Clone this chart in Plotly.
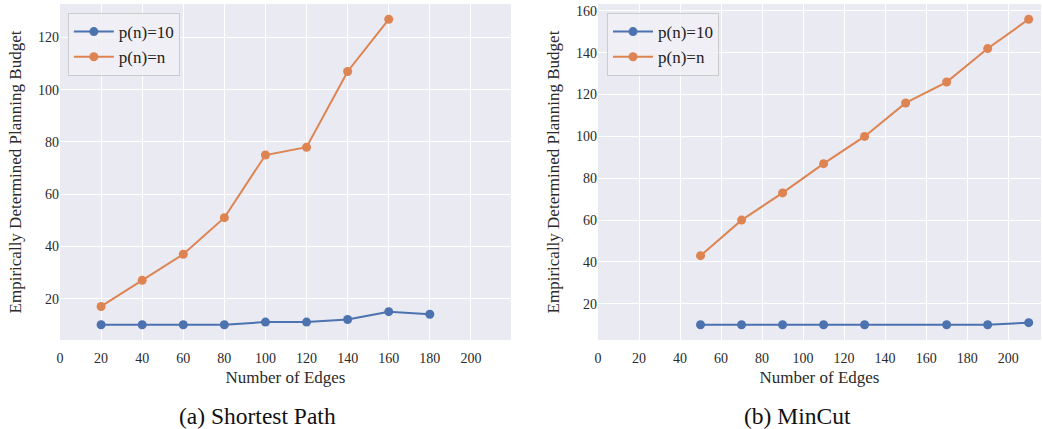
import plotly.graph_objects as go

# Shortest Path
sp_x_p10 = [20, 40, 60, 80, 100, 120, 140, 160, 180]
sp_y_p10 = [10, 10, 10, 10, 11, 11, 12, 15, 14]
sp_x_pn = [20, 40, 60, 80, 100, 120, 140, 160]
sp_y_pn = [17, 27, 37, 51, 75, 78, 107, 127]

# MinCut
mc_x_p10 = [50, 70, 90, 110, 130, 170, 190, 210]
mc_y_p10 = [10, 10, 10, 10, 10, 10, 10, 11]
mc_x_pn = [50, 70, 90, 110, 130, 150, 170, 190, 210]
mc_y_pn = [43, 60, 73, 87, 100, 116, 126, 142, 156]

series_names = ["p(n)=10", "p(n)=n"]
captions = ["(a) Shortest Path", "(b) MinCut"]
x_title = "Number of Edges"
y_title = "Empirically Determined Planning Budget"

BLUE = "#4C72B0"
ORANGE = "#DD8452"
FONT = "Liberation Serif"

fig = go.Figure()

def add(x, y, name, color, xa, ya, legend):
    fig.add_trace(go.Scatter(
        x=x, y=y, name=name, mode="lines+markers",
        line=dict(color=color, width=2),
        marker=dict(color=color, size=9),
        xaxis=xa, yaxis=ya, legend=legend,
    ))

add(sp_x_p10, sp_y_p10, series_names[0], BLUE, "x", "y", "legend")
add(sp_x_pn, sp_y_pn, series_names[1], ORANGE, "x", "y", "legend")
add(mc_x_p10, mc_y_p10, series_names[0], BLUE, "x2", "y2", "legend2")
add(mc_x_pn, mc_y_pn, series_names[1], ORANGE, "x2", "y2", "legend2")

axis_common = dict(
    showgrid=True, gridcolor="white", gridwidth=1, zeroline=False,
    showline=False, ticks="", tickfont=dict(size=14, color="#2a2a2a", family=FONT),
)
xtitle = dict(text=x_title, font=dict(size=17, family=FONT, color="#2a2a2a"), standoff=6)
ytitle = dict(text=y_title, font=dict(size=17, family=FONT, color="#2a2a2a"), standoff=12)

legend_common = dict(
    bgcolor="rgba(240,240,246,0.85)", bordercolor="#CCCCCC", borderwidth=1,
    font=dict(size=17, color="#222222", family=FONT),
    xanchor="left", yanchor="top", tracegroupgap=0, itemwidth=40,
)

fig.update_layout(
    width=1042, height=429,
    margin=dict(l=60, r=1, t=4, b=89),
    paper_bgcolor="white", plot_bgcolor="#EAEAF2",
    font=dict(family=FONT, color="#2a2a2a"),
    showlegend=True,
    xaxis=dict(domain=[0, 0.4597], range=[0, 219.5], dtick=20, ticklabelstandoff=8,
               title=xtitle, **axis_common),
    yaxis=dict(range=[4.15, 132.85], tickvals=[20, 40, 60, 80, 100, 120],
               title=ytitle, **axis_common),
    xaxis2=dict(domain=[0.5484, 1], range=[0, 216], dtick=20, anchor="y2", ticklabelstandoff=8,
                title=xtitle, **axis_common),
    yaxis2=dict(range=[2.7, 163.3], tickvals=[20, 40, 60, 80, 100, 120, 140, 160], anchor="x2",
                title=ytitle, **axis_common),
    legend=dict(x=0.008, y=0.973, **legend_common),
    legend2=dict(x=0.5576, y=0.973, **legend_common),
)

for cx, text in zip([0.2018, 0.7513], captions):
    fig.add_annotation(text=text, xref="paper", yref="paper", x=cx, y=-0.226,
                       xanchor="center", yanchor="middle", showarrow=False,
                       font=dict(size=23.5, family=FONT, color="#111111"))

fig.write_html("out.html")
